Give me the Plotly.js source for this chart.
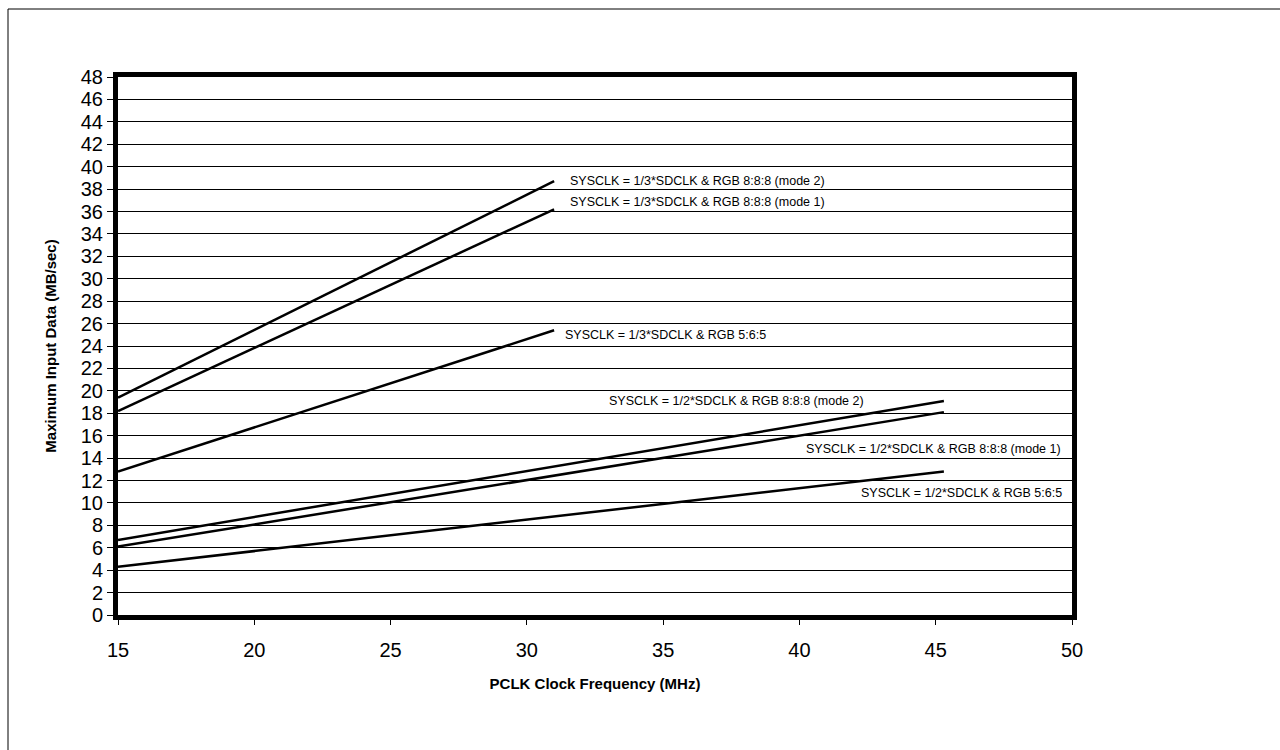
<!DOCTYPE html>
<html>
<head>
<meta charset="utf-8">
<script src="https://cdn.plot.ly/plotly-3.0.1.min.js"></script>
<style>
  html, body { margin: 0; padding: 0; background: #fff; }
  #chart { width: 1280px; height: 750px; }
</style>
</head>
<body>
<div id="chart"></div>
<script>
// ---- Data ----
const seriesNames = [
  "SYSCLK = 1/3*SDCLK & RGB 8:8:8 (mode 2)",
  "SYSCLK = 1/3*SDCLK & RGB 8:8:8 (mode 1)",
  "SYSCLK = 1/3*SDCLK & RGB 5:6:5",
  "SYSCLK = 1/2*SDCLK & RGB 8:8:8 (mode 2)",
  "SYSCLK = 1/2*SDCLK & RGB 8:8:8 (mode 1)",
  "SYSCLK = 1/2*SDCLK & RGB 5:6:5"
];
const pclkThird = [15, 31.0];   // PCLK (MHz) for 1/3 SDCLK series
const pclkHalf  = [15, 45.3];   // PCLK (MHz) for 1/2 SDCLK series
const third888m2 = [19.4, 38.7];
const third888m1 = [18.2, 36.2];
const third565   = [12.8, 25.4];
const half888m2  = [6.7, 19.1];
const half888m1  = [6.1, 18.1];
const half565    = [4.3, 12.8];

const xTitle = "PCLK Clock Frequency (MHz)";
const yTitle = "Maximum Input Data (MB/sec)";

// ---- Build traces ----
const xs = [pclkThird, pclkThird, pclkThird, pclkHalf, pclkHalf, pclkHalf];
const ys = [third888m2, third888m1, third565, half888m2, half888m1, half565];
const traces = ys.map((y, i) => ({
  type: "scatter",
  mode: "lines",
  x: xs[i],
  y: y,
  name: seriesNames[i],
  line: { color: "#000", width: 2.5 },
  hoverinfo: "skip",
  cliponaxis: false
}));

// label placements (positions only)
const labelPos = [
  [31.5, 38.7], [31.5, 36.85], [31.33, 25.0],
  [32.94, 19.13], [40.17, 14.79], [42.18, 10.9]
];
const font = "Arial, 'Liberation Sans', sans-serif";
const annotations = seriesNames.map((t, i) => ({
  x: labelPos[i][0], y: labelPos[i][1], xref: "x", yref: "y",
  text: t, showarrow: false, xanchor: "left", yanchor: "middle",
  font: { family: font, size: 12.5, color: "#000" }
}));

const layout = {
  width: 1280, height: 750,
  margin: { l: 118, r: 208, t: 77, b: 135, pad: 0 },
  paper_bgcolor: "#fff", plot_bgcolor: "#fff",
  showlegend: false,
  hovermode: false,
  font: { family: font, color: "#000" },
  xaxis: {
    range: [15, 50], dtick: 5, tick0: 15,
    showline: true, linecolor: "#000", linewidth: 5, mirror: true,
    ticks: "outside", ticklen: 5, tickwidth: 1, tickcolor: "#000",
    showgrid: false, zeroline: false,
    tickfont: { family: font, size: 20, color: "#000" },
    ticklabelstandoff: 8,
    title: { text: xTitle, font: { family: font, size: 15, color: "#000", weight: "bold" }, standoff: 20 },
    automargin: false, fixedrange: true
  },
  yaxis: {
    range: [0, 48], dtick: 2, tick0: 0,
    showline: true, linecolor: "#000", linewidth: 5, mirror: true,
    ticks: "outside", ticklen: 6, tickwidth: 1, tickcolor: "#000",
    showgrid: true, gridcolor: "#000", gridwidth: 1, zeroline: false,
    tickfont: { family: font, size: 20, color: "#000" },
    title: { text: yTitle, font: { family: font, size: 15, color: "#000", weight: "bold" }, standoff: 22 },
    automargin: false, fixedrange: true
  },
  annotations: annotations,
  shapes: [{
    type: "rect", xref: "paper", yref: "paper",
    x0: (8 - 118) / 954, x1: (1300 - 118) / 954,
    y0: (615 - 770) / 538, y1: (615 - 9) / 538,
    line: { color: "#000", width: 1 }, fillcolor: "rgba(0,0,0,0)", layer: "below"
  }]
};

Plotly.newPlot("chart", traces, layout, { displayModeBar: false, staticPlot: true });
</script>
</body>
</html>
